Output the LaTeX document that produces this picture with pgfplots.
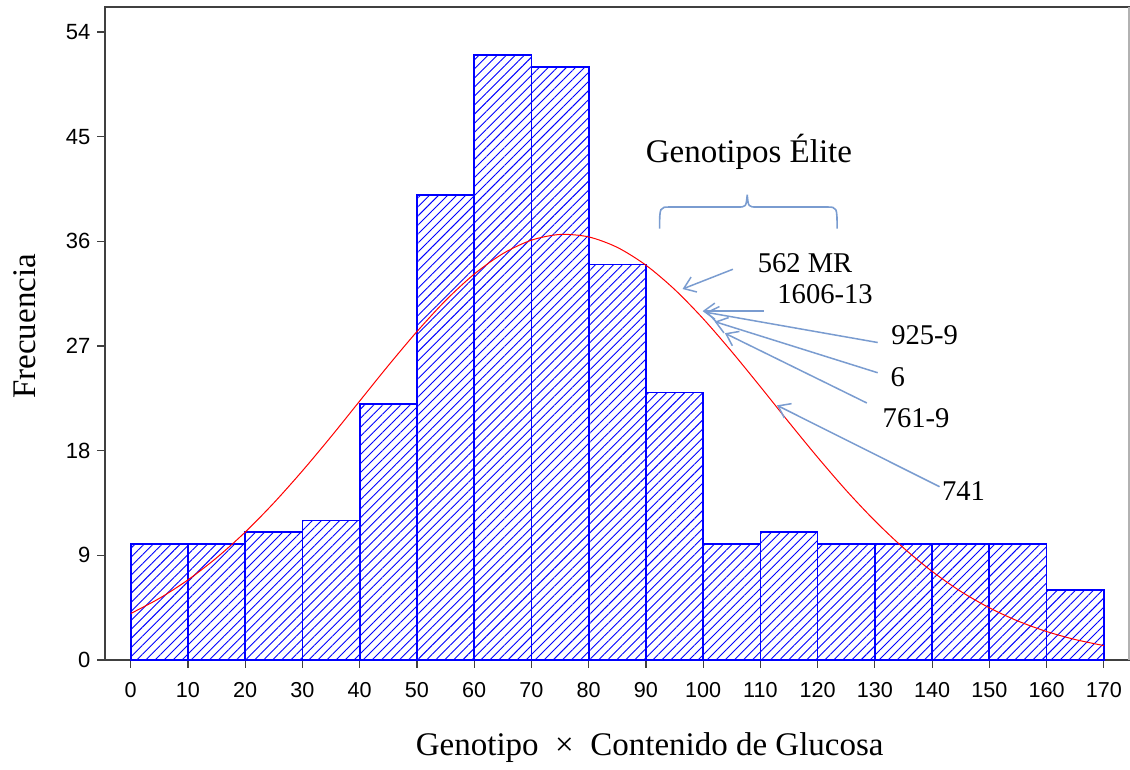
\documentclass[border=0pt]{standalone}
\usepackage{pgfplots}
\pgfplotsset{compat=1.18}
\usepackage{fontspec}
\setmainfont{Liberation Serif}
\newfontfamily\arialfont{Liberation Sans}
\usetikzlibrary{patterns.meta,arrows.meta}
\definecolor{annot}{RGB}{122,156,208}

\begin{document}
\begin{tikzpicture}
\begin{axis}[
  scale only axis, width=512pt, height=326.5pt,
  xmin=-4.5, xmax=174.4, ymin=0, ymax=56.15,
  xtick={0,10,...,170}, ytick={0,9,...,54},
  tick align=outside, tick pos=left,
  major tick length=3.75pt,
  axis line style={black!75, line width=0.6pt},
  tick style={black!75, line width=0.6pt},
  /pgf/number format/assume math mode=true,
  xticklabel style={font=\arialfont\fontsize{10.8}{12}\selectfont, yshift=-4pt},
  yticklabel style={font=\arialfont\fontsize{11}{12}\selectfont},
  xlabel={Genotipo~~×~~Contenido de Glucosa},
  ylabel={Frecuencia},
  xlabel style={font=\fontsize{16.5}{19}\selectfont, at={(axis description cs:0.532,0)}, anchor=center, yshift=-44pt},
  ylabel style={font=\fontsize{16.5}{19}\selectfont, at={(axis description cs:-0.078,0.511)}, anchor=center},
  clip=false,
]
\addplot[ybar interval, draw=blue, line width=0.85pt,
  pattern={Lines[angle=45,distance=3.2pt,line width=0.45pt]}, pattern color=blue]
  coordinates {(0,10)(10,10)(20,11)(30,12)(40,22)(50,40)(60,52)(70,51)(80,34)(90,23)(100,10)(110,11)(120,10)(130,10)(140,10)(150,10)(160,6)(170,6)};

\addplot[red, line width=0.5pt, smooth] coordinates {(0,4.00)(5,5.30)(10,6.89)(15,8.79)(20,11.00)(25,13.51)(30,16.27)(35,19.21)(40,22.27)(45,25.32)(50,28.24)(55,30.91)(60,33.18)(65,34.94)(70,36.10)(75,36.59)(80,36.38)(85,35.48)(90,33.95)(95,31.87)(100,29.35)(105,26.51)(110,23.50)(115,20.43)(120,17.43)(125,14.58)(130,11.97)(135,9.64)(140,7.62)(145,5.90)(150,4.49)(155,3.35)(160,2.45)(165,1.76)(170,1.24)};

\draw[annot, line width=0.8pt] (92.4,37.1) .. controls (92.4,38.95) .. (94.2,38.95) -- (106.0,38.95) .. controls (107.5,38.95) .. (107.7,40.0) .. controls (107.9,38.95) .. (109.4,38.95) -- (121.6,38.95) .. controls (123.4,38.95) .. (123.4,37.1);
\node[font=\fontsize{16.5}{19}\selectfont] at (108.0,43.7) {Genotipos Élite};

\begin{scope}[annot, line width=0.75pt, -{Straight Barb[length=5.5pt,width=8pt]}]
\draw (105.2,33.6) -- (96.4,31.9);
\draw (110.6,30.0) -- (99.9,30.0);
\draw (130.5,27.3) -- (100.5,29.9);
\draw (130.5,24.7) -- (102.0,29.1);
\draw (128.6,22.1) -- (103.8,28.1);
\draw (141.3,14.9) -- (112.9,21.9);
\end{scope}
\begin{scope}[every node/.style={font=\fontsize{14.3}{17}\selectfont}]
\node at (117.8,34.1) {562 MR};
\node at (121.3,31.5) {1606-13};
\node at (138.7,27.9) {925-9};
\node at (134.0,24.3) {6};
\node at (137.2,20.8) {761-9};
\node at (145.5,14.5) {741};
\end{scope}
\end{axis}
\draw[black!30, line width=0.6pt] (current axis.south east) -- (current axis.north east);
\path ([shift={(-52.5pt,-51.5pt)}]current axis.south west) rectangle ([shift={(0.5pt,3.5pt)}]current axis.north east);
\end{tikzpicture}
\end{document}
